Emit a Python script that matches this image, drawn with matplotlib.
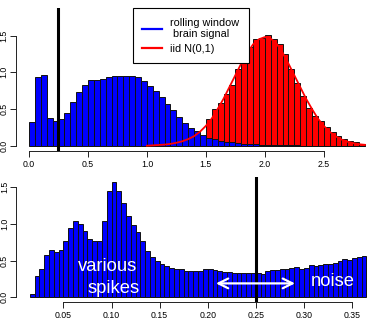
import numpy as np
import matplotlib
matplotlib.use("Agg")
import matplotlib.pyplot as plt
from matplotlib.lines import Line2D

plt.rcParams['font.family'] = ['Liberation Sans', 'DejaVu Sans']

# ---------------- data ----------------
# top panel: histogram bins of width 0.05
top_bin_width = 0.05
blue_start = 0.0
blue_heights = [0.32, 0.93, 0.96, 0.38, 0.34, 0.36, 0.45, 0.59, 0.73, 0.83,
                0.89, 0.90, 0.91, 0.94, 0.95, 0.945, 0.945, 0.945, 0.94, 0.88,
                0.82, 0.745, 0.66, 0.57, 0.48, 0.39, 0.31, 0.245, 0.20, 0.145,
                0.11, 0.086, 0.07, 0.055, 0.045, 0.036, 0.028, 0.022, 0.017, 0.013,
                0.01, 0.008, 0.006, 0.005, 0.004, 0.003, 0.002, 0.002, 0.001, 0.001,
                0.001, 0.0, 0.0, 0.0, 0.0, 0.0, 0.0]
red_start = 1.20
red_heights = [0.01, 0.02, 0.03, 0.05, 0.09, 0.13, 0.37, 0.50, 0.58, 0.70,
               0.83, 1.04, 1.19, 1.35, 1.46, 1.47, 1.51, 1.45, 1.38, 1.25,
               1.04, 0.85, 0.68, 0.52, 0.40, 0.34, 0.26, 0.19, 0.135, 0.09,
               0.065, 0.045, 0.027]
curve_x = [1.00, 1.05, 1.10, 1.15, 1.20, 1.25, 1.30, 1.35, 1.40, 1.45,
           1.50, 1.55, 1.60, 1.65, 1.70, 1.75, 1.80, 1.85, 1.90, 1.95,
           2.00, 2.05, 2.10, 2.15, 2.20, 2.25, 2.30, 2.35, 2.40, 2.45,
           2.50, 2.55, 2.60, 2.65, 2.70, 2.75, 2.80, 2.85]
curve_y = [0.00, 0.005, 0.01, 0.015, 0.025, 0.04, 0.06, 0.09, 0.13, 0.19,
           0.27, 0.37, 0.50, 0.64, 0.80, 0.96, 1.12, 1.26, 1.38, 1.45,
           1.48, 1.46, 1.39, 1.27, 1.12, 0.96, 0.80, 0.64, 0.50, 0.37,
           0.27, 0.19, 0.13, 0.085, 0.055, 0.035, 0.02, 0.012]
top_threshold = 0.25
top_xticks = [0.0, 0.5, 1.0, 1.5, 2.0, 2.5]
top_yticks = [0.0, 0.5, 1.0, 1.5]

# bottom panel: histogram bins of width 0.005
bot_bin_width = 0.005
bot_start = 0.015
bot_heights = [0.05, 0.29, 0.38, 0.58, 0.64, 0.62, 0.65, 0.77, 0.95, 1.04,
               1.00, 0.90, 0.80, 0.77, 0.77, 1.04, 1.44, 1.57, 1.45, 1.29,
               1.11, 0.99, 0.89, 0.76, 0.63, 0.55, 0.49, 0.45, 0.43, 0.40,
               0.38, 0.38, 0.36, 0.36, 0.36, 0.355, 0.38, 0.38, 0.37, 0.36,
               0.35, 0.345, 0.335, 0.335, 0.335, 0.325, 0.325, 0.33, 0.315, 0.36,
               0.37, 0.37, 0.39, 0.39, 0.40, 0.41, 0.39, 0.40, 0.435, 0.42,
               0.435, 0.45, 0.46, 0.47, 0.49, 0.52, 0.51, 0.54, 0.545, 0.56]
bot_threshold = 0.25
bot_xticks = [0.05, 0.10, 0.15, 0.20, 0.25, 0.30, 0.35]
bot_yticks = [0.0, 0.5, 1.0, 1.5]

legend_labels = ["rolling window\n brain signal", "iid N(0,1)"]

# ---------------- figure ----------------
W, H = 374, 320
fig = plt.figure(figsize=(W / 100, H / 100), dpi=100)

def px_axes(l, t, r, b):
    return fig.add_axes([l / W, 1 - b / H, (r - l) / W, (b - t) / H])

tick_fs = 6.3

def style(ax, xt, yt, xb, yb):
    for s in ['top', 'right']:
        ax.spines[s].set_visible(False)
    ax.spines['left'].set_bounds(yb[0], yb[1])
    ax.spines['bottom'].set_bounds(xb[0], xb[1])
    for s in ['left', 'bottom']:
        ax.spines[s].set_linewidth(0.7)
        ax.spines[s].set_color('#222222')
    ax.set_xticks(xt)
    ax.set_xticklabels([f"{v:.1f}" if max(xt) > 1 else f"{v:.2f}" for v in xt])
    ax.set_yticks(yt)
    ax.set_yticklabels([f"{v:.1f}" for v in yt])
    ax.tick_params(axis='both', length=4, width=0.7, color='#222222',
                   labelsize=tick_fs)
    ax.tick_params(axis='x', pad=2.5)
    ax.tick_params(axis='y', pad=1.2)
    for lab in ax.get_yticklabels():
        lab.set_rotation(90)
        lab.set_va('center')
        lab.set_ha('right')
    ax.patch.set_alpha(0)

# top panel
ax1 = px_axes(15.6, 8.3, W, 151)
b_edges = blue_start + top_bin_width * np.arange(len(blue_heights))
r_edges = red_start + top_bin_width * np.arange(len(red_heights))
ax1.bar(r_edges, red_heights, width=top_bin_width, align='edge',
        color='#ff0000', edgecolor='#111111', linewidth=0.7, zorder=2)
ax1.bar(b_edges, blue_heights, width=top_bin_width, align='edge',
        color='#0000ff', edgecolor='#111111', linewidth=0.7, zorder=3)
ax1.plot(curve_x, curve_y, color='#ff0000', lw=1.3, zorder=4)
ax1.axvline(top_threshold, color='black', lw=2.2, zorder=5)
ax1.set_xlim(-0.1137, 2.926)
ax1.set_ylim(-0.072, 1.872)
style(ax1, top_xticks, top_yticks, (0, 2.5), (0, 1.5))

handles = [Line2D([], [], color='#0000ff', lw=1.6),
           Line2D([], [], color='#ff0000', lw=1.6)]
leg = ax1.legend(handles, legend_labels, loc='upper left',
                 bbox_to_anchor=(133 / W, 1 - 8.3 / H), bbox_transform=fig.transFigure,
                 borderaxespad=0, fontsize=7.8, frameon=True, fancybox=False,
                 edgecolor='black', framealpha=1, handlelength=1.8,
                 handletextpad=0.8, borderpad=0.85, labelspacing=0.45)
leg.get_frame().set_linewidth(0.8)
leg.set_zorder(10)

# bottom panel
ax2 = px_axes(16.3, 177.3, W, 302)
e2 = bot_start + bot_bin_width * np.arange(len(bot_heights))
ax2.bar(e2, bot_heights, width=bot_bin_width, align='edge',
        color='#0000ff', edgecolor='#111111', linewidth=0.7, zorder=2)
ax2.axvline(bot_threshold, color='black', lw=2.2, zorder=5)
ax2.set_xlim(0.0010, 0.3729)
ax2.set_ylim(-0.063, 1.633)
style(ax2, bot_xticks, bot_yticks, (0.05, 0.35), (0, 1.5))

ax2.text(0.0958, 0.42, "various", color='white', fontsize=13.2,
         ha='center', va='center', zorder=6)
ax2.text(0.1020, 0.12, "spikes", color='white', fontsize=13.2,
         ha='center', va='center', zorder=6)
ax2.text(0.3302, 0.21, "noise", color='white', fontsize=13.2,
         ha='center', va='center', zorder=6)
ax2.annotate("", xy=(0.2086, 0.19), xytext=(0.2907, 0.19),
             arrowprops=dict(arrowstyle='<->,head_length=0.7,head_width=0.35',
                             color='white', lw=1.6, shrinkA=0, shrinkB=0),
             zorder=6)

fig.savefig("out.png", dpi=100)
